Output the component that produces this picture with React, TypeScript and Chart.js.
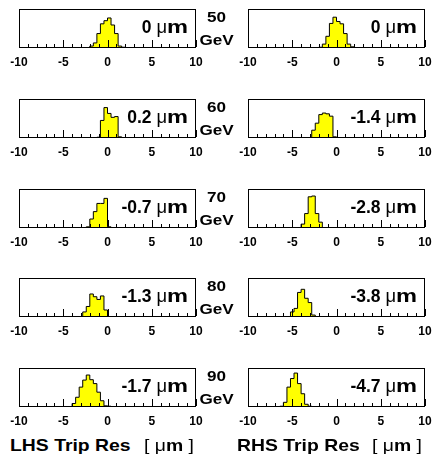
import React, { useEffect, useRef } from "react";
import { Chart, registerables } from "chart.js";

Chart.register(...registerables);

const FONT = '"Liberation Sans", Arial, Helvetica, sans-serif';

// histogram bin width (µm)
const binWidth = 0.4;

// energies (GeV)
const energies = ["50", "60", "70", "80", "90"];

// fitted means shown in the panels
const lhsMeans = ["0", "0.2", "-0.7", "-1.3", "-1.7"];
const rhsMeans = ["0", "-1.4", "-2.8", "-3.8", "-4.7"];

// first bin lower edges
const lhsStarts = [-2.4, -1.2, -2.4, -3.2, -4.0];
const rhsStarts = [-2.0, -3.2, -4.4, -5.2, -6.4];

// bin contents (panel top = 100)
const lhs50 = [1, 5, 13, 37, 62, 70, 77, 59, 37, 5, 2, 1];
const lhs60 = [2, 45, 78, 63, 53, 55, 3];
const lhs70 = [3, 23, 42, 63, 63, 76, 3];
const lhs80 = [1, 13, 27, 59, 52, 45, 54, 18];
const lhs90 = [9, 25, 51, 69, 82, 70, 60, 38, 16, 3, 2, 1, 1];

const rhs50 = [2, 10, 30, 63, 79, 68, 62, 37, 10, 3, 1];
const rhs60 = [1, 20, 38, 60, 64, 62, 56, 3];
const rhs70 = [1, 10, 37, 80, 82, 37, 15];
const rhs80 = [13, 22, 63, 71, 48, 37, 5, 1];
const rhs90 = [2, 12, 51, 73, 87, 60, 34, 7, 2];

const lhsCounts = [lhs50, lhs60, lhs70, lhs80, lhs90];
const rhsCounts = [rhs50, rhs60, rhs70, rhs80, rhs90];

// axis
const xMin = -10;
const xMax = 10;
const majorTicks = [-10, -5, 0, 5, 10];
const minorTicks = [-9, -8, -7, -6, -4, -3, -2, -1, 1, 2, 3, 4, 6, 7, 8, 9];

// layout
const rowTops = [9, 99, 189, 278, 368];
const colLefts = [19, 248];
const PW = 177;
const PH = 39;
const PAD_L = 14;
const PAD_R = 14;
const PAD_T = 2;
const PAD_B = 22;

function buildSteps(start: number, counts: number[]) {
  const pts: { x: number; y: number }[] = [{ x: start, y: 0 }];
  counts.forEach((c, i) => pts.push({ x: start + i * binWidth, y: c }));
  pts.push({ x: start + counts.length * binWidth, y: 0 });
  return pts;
}

const framePlugin = {
  id: "rootFrame",
  afterDatasetsDraw(chart: any) {
    const { ctx, chartArea: a, scales } = chart;
    const x = scales.x;
    const label: string = chart.options.plugins.rootFrame.label;
    ctx.save();
    ctx.strokeStyle = "#000";
    ctx.lineWidth = 1;
    ctx.strokeRect(a.left + 0.5, a.top + 0.5, a.right - a.left - 1, a.bottom - a.top - 1);
    ctx.beginPath();
    for (const v of minorTicks) {
      const px = Math.round(x.getPixelForValue(v)) + 0.5;
      ctx.moveTo(px, a.bottom - 1);
      ctx.lineTo(px, a.bottom - 4);
    }
    for (const v of majorTicks) {
      const px = Math.round(x.getPixelForValue(v)) + 0.5;
      ctx.moveTo(px, a.bottom - 1);
      ctx.lineTo(px, a.bottom - 8);
    }
    ctx.stroke();
    // tick labels
    ctx.fillStyle = "#000";
    ctx.font = `bold 12px ${FONT}`;
    ctx.textAlign = "center";
    ctx.textBaseline = "alphabetic";
    for (const v of majorTicks) {
      ctx.fillText(String(v), x.getPixelForValue(v), a.bottom + 18);
    }
    // mean label: "<value> µm"
    const parts = [
      { t: label + " ", f: `bold 17.5px ${FONT}`, s: 1 },
      { t: "\u03bc", f: `17.5px ${FONT}`, s: 1.05 },
      { t: "m", f: `bold 17.5px ${FONT}`, s: 1.35 },
    ];
    ctx.textAlign = "left";
    let total = 0;
    const widths = parts.map((p) => {
      ctx.font = p.f;
      const w = ctx.measureText(p.t).width * p.s;
      total += w;
      return w;
    });
    let cx = a.right - 8 - total;
    const by = a.top + 23.5;
    parts.forEach((p, i) => {
      ctx.font = p.f;
      ctx.save();
      ctx.translate(cx, by);
      ctx.scale(p.s, 1);
      ctx.fillText(p.t, 0, 0);
      ctx.restore();
      cx += widths[i];
    });
    ctx.restore();
  },
};

function Panel({ left, top, start, counts, label }: { left: number; top: number; start: number; counts: number[]; label: string }) {
  const ref = useRef<HTMLCanvasElement>(null);
  useEffect(() => {
    if (!ref.current) return;
    const chart = new Chart(ref.current, {
      type: "line",
      data: {
        datasets: [
          {
            data: buildSteps(start, counts),
            stepped: "before",
            borderColor: "#000",
            borderWidth: 1,
            backgroundColor: "#ffff00",
            fill: "origin",
            pointRadius: 0,
          },
        ],
      },
      options: {
        animation: false,
        responsive: false,
        devicePixelRatio: 1,
        layout: { padding: { left: PAD_L, right: PAD_R, top: PAD_T, bottom: PAD_B } },
        scales: {
          x: { type: "linear", min: xMin, max: xMax, display: false },
          y: { min: 0, max: 100, display: false },
        },
        plugins: {
          legend: { display: false },
          tooltip: { enabled: false },
          rootFrame: { label },
        } as any,
      },
      plugins: [framePlugin],
    });
    return () => chart.destroy();
  }, [start, counts, label]);
  const w = PW + PAD_L + PAD_R;
  const h = PH + PAD_T + PAD_B;
  return (
    <canvas
      ref={ref}
      width={w}
      height={h}
      style={{ position: "absolute", left: left - PAD_L, top: top - PAD_T, width: w, height: h }}
    />
  );
}

const energyStyle: React.CSSProperties = {
  position: "absolute",
  left: 196,
  width: 41,
  lineHeight: "18px",
  fontSize: 15,
  fontWeight: "bold",
  textAlign: "center",
  transform: "scaleX(1.14)",
};

const titleStyle: React.CSSProperties = {
  position: "absolute",
  top: 435,
  lineHeight: "22px",
  fontSize: 17,
  whiteSpace: "pre",
  transformOrigin: "left center",
  transform: "scaleX(1.14)",
};

export default function App() {
  return (
    <div style={{ position: "absolute", left: 0, top: 0, width: 432, height: 460, background: "#fff", fontFamily: FONT }}>
      {energies.map((e, i) => (
        <React.Fragment key={e}>
          <Panel left={colLefts[0]} top={rowTops[i]} start={lhsStarts[i]} counts={lhsCounts[i]} label={lhsMeans[i]} />
          <Panel left={colLefts[1]} top={rowTops[i]} start={rhsStarts[i]} counts={rhsCounts[i]} label={rhsMeans[i]} />
          <div style={{ ...energyStyle, top: rowTops[i] - 1 }}>{e}</div>
          <div style={{ ...energyStyle, top: rowTops[i] + 22 }}>GeV</div>
        </React.Fragment>
      ))}
      <div style={{ ...titleStyle, left: 10 }}>
        <b>LHS Trip Res</b>
      </div>
      <div style={{ ...titleStyle, left: 144 }}>
        {"[ \u03bc"}<b>m</b>{" ]"}
      </div>
      <div style={{ ...titleStyle, left: 237 }}>
        <b>RHS Trip Res</b>
      </div>
      <div style={{ ...titleStyle, left: 372 }}>
        {"[ \u03bc"}<b>m</b>{" ]"}
      </div>
    </div>
  );
}
